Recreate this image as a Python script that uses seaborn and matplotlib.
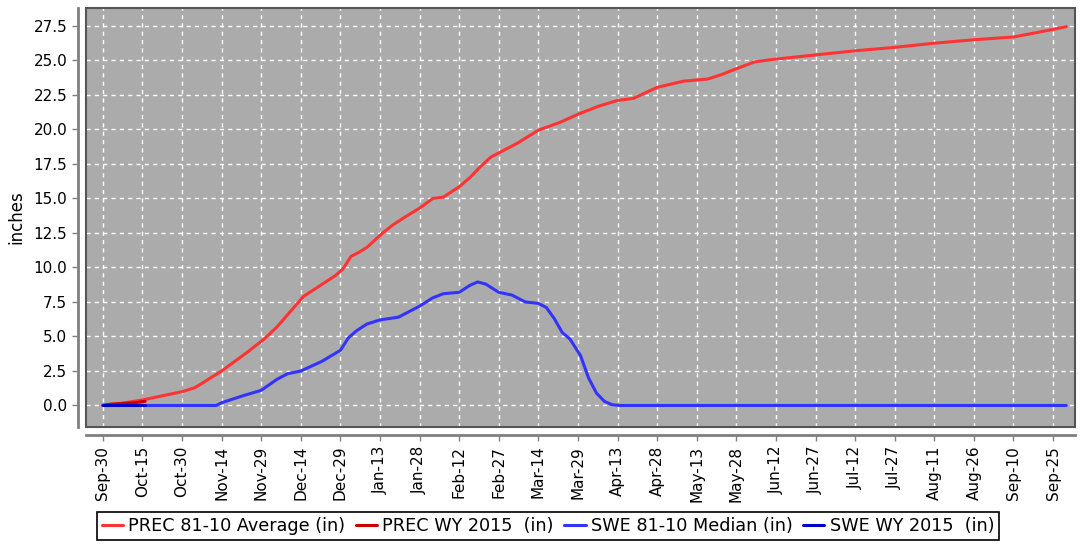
import pandas as pd
import seaborn as sns
import matplotlib.pyplot as plt
import matplotlib.dates as mdates
from matplotlib.patches import Rectangle

# Données (jours depuis le 30 sept. 2014, valeurs en pouces)
start = pd.Timestamp("2014-09-30")

prec_avg_days = [0, 5, 10, 15, 20, 25, 30, 35, 40, 45, 50, 55, 61, 66, 71, 76, 80, 84, 88, 91,
                 94, 97, 100, 106, 110, 114, 120, 125, 129, 135, 139, 143, 147, 150, 157, 165,
                 173, 180, 188, 195, 201, 210, 220, 229, 234, 240, 247, 255, 270, 285, 300,
                 315, 330, 345, 360, 365]
prec_avg = [0.0, 0.1, 0.25, 0.4, 0.6, 0.8, 1.0, 1.3, 1.9, 2.5, 3.2, 3.9, 4.8, 5.7, 6.8, 7.9, 8.4,
            8.9, 9.4, 9.9, 10.8, 11.1, 11.45, 12.5, 13.1, 13.6, 14.3, 15.0, 15.1, 15.85, 16.5,
            17.3, 18.0, 18.3, 19.0, 19.95, 20.5, 21.1, 21.7, 22.1, 22.25, 23.05, 23.5, 23.65,
            23.95, 24.4, 24.9, 25.1, 25.4, 25.7, 25.95, 26.25, 26.5, 26.7, 27.25, 27.45]

prec_wy_days = [0, 3, 8, 12, 16]
prec_wy = [0.0, 0.1, 0.15, 0.2, 0.3]

swe_med_days = [0, 43, 45, 53, 60, 66, 70, 75, 83, 90, 93, 96, 100, 105, 112, 120, 125, 129, 135,
                139, 142, 145, 150, 155, 160, 165, 168, 171, 174, 177, 181, 184, 187, 190, 193,
                196, 365]
swe_med = [0.0, 0.0, 0.2, 0.7, 1.1, 1.9, 2.3, 2.5, 3.2, 4.0, 4.9, 5.4, 5.9, 6.2, 6.4, 7.2, 7.8,
           8.1, 8.2, 8.7, 8.95, 8.8, 8.2, 8.0, 7.5, 7.4, 7.1, 6.3, 5.3, 4.8, 3.6, 2.0, 0.9, 0.3,
           0.05, 0.0, 0.0]

swe_wy_days = [0, 16]
swe_wy = [0.0, 0.0]

series = [
    ("PREC 81-10 Average (in)", prec_avg_days, prec_avg, "#ff3333"),
    ("PREC WY 2015  (in)", prec_wy_days, prec_wy, "#cc0000"),
    ("SWE 81-10 Median (in)", swe_med_days, swe_med, "#3333ff"),
    ("SWE WY 2015  (in)", swe_wy_days, swe_wy, "#0000cc"),
]

sns.set_style("whitegrid", {"axes.facecolor": "#ababab", "grid.color": "white",
                            "grid.linestyle": (0, (3, 3)), "text.color": "black",
                            "axes.labelcolor": "black"})
plt.rcParams["font.family"] = ["DejaVu Sans"]

fig = plt.figure(figsize=(10.83, 5.45), dpi=100)
ax = fig.add_axes([0.0794, 0.2165, 0.9132, 0.7688])

for label, days, vals, col in series:
    df = pd.DataFrame({"date": start + pd.to_timedelta(days, unit="D"), "val": vals})
    sns.lineplot(data=df, x="date", y="val", ax=ax, color=col, lw=2.2, label=label)

ticks = pd.date_range(start, periods=25, freq="15D")
ax.set_xticks(ticks)
ax.xaxis.set_major_formatter(mdates.DateFormatter("%b-%d"))
ax.set_xlim(start - pd.Timedelta(days=6.4), start + pd.Timedelta(days=368.3))
ax.set_ylim(-1.56, 28.8)
ax.set_yticks([i * 2.5 for i in range(12)])
ax.yaxis.set_major_formatter(plt.FuncFormatter(lambda v, p: f"{v:.1f}"))
ax.tick_params(axis="x", labelrotation=90)
ax.tick_params(labelsize=11, colors="#808080", labelcolor="black", length=4, width=1)
ax.tick_params(axis="both", which="both", left=True, bottom=True)
ax.set_xlabel("")
ax.set_ylabel("inches", fontsize=12, labelpad=6)
ax.grid(True, color="white", linestyle=(0, (3, 3)), lw=1)

for s in ["top", "right"]:
    ax.spines[s].set_visible(False)
for s in ["left", "bottom"]:
    ax.spines[s].set_position(("outward", 6))
    ax.spines[s].set_color("#808080")
    ax.spines[s].set_linewidth(2)
ax.add_patch(Rectangle((0, 0), 1, 1, transform=ax.transAxes, fill=False,
                       edgecolor="#555555", lw=1.5, clip_on=False, zorder=5))

ax.legend_.remove()
h, l = ax.get_legend_handles_labels()
leg = fig.legend(h, l, loc="center", bbox_to_anchor=(0.506, 0.035), ncol=4, frameon=True,
                 fancybox=False, edgecolor="black", facecolor="white", framealpha=1,
                 fontsize=12.7, handlelength=1.2, handletextpad=0.3, columnspacing=0.6,
                 borderpad=0.3)
leg.get_frame().set_linewidth(1.2)
for t in leg.get_texts():
    t.set_color("black")

fig.savefig("out.png", dpi=100)
